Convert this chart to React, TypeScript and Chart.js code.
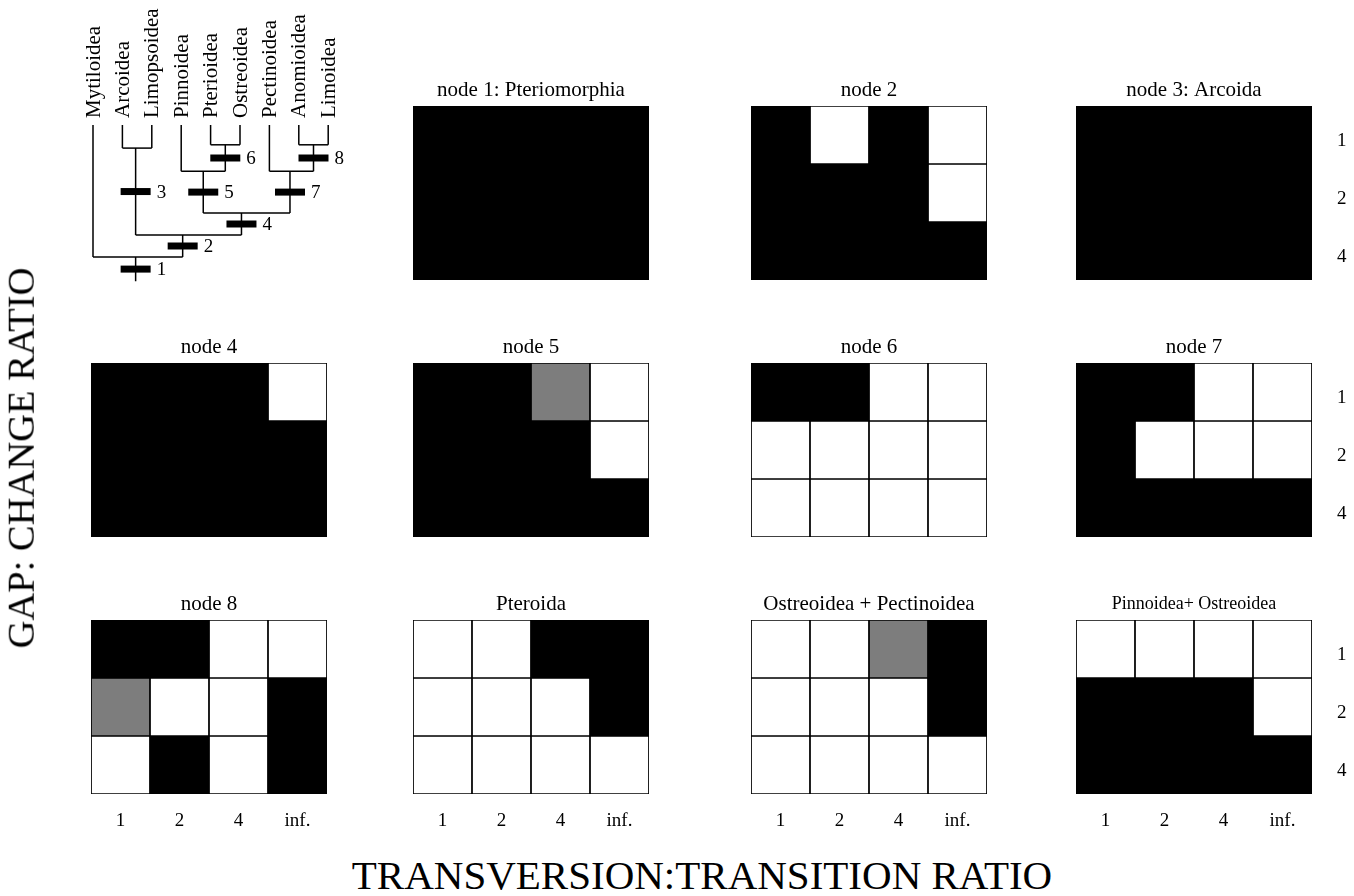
import React, { useEffect, useRef } from 'react';
import { Chart, registerables } from 'chart.js';

Chart.register(...registerables);

const SERIF = "'Liberation Serif', 'Times New Roman', serif";

// ---------- DATA ----------
const xCategories = ['1', '2', '4', 'inf.'];
const yCategories = ['1', '2', '4'];

// cell values: 1 = supported (black), 0.5 = partial (grey), 0 = not supported (white)
const node1Grid = [[1, 1, 1, 1], [1, 1, 1, 1], [1, 1, 1, 1]];
const node2Grid = [[1, 0, 1, 0], [1, 1, 1, 0], [1, 1, 1, 1]];
const node3Grid = [[1, 1, 1, 1], [1, 1, 1, 1], [1, 1, 1, 1]];
const node4Grid = [[1, 1, 1, 0], [1, 1, 1, 1], [1, 1, 1, 1]];
const node5Grid = [[1, 1, 0.5, 0], [1, 1, 1, 0], [1, 1, 1, 1]];
const node6Grid = [[1, 1, 0, 0], [0, 0, 0, 0], [0, 0, 0, 0]];
const node7Grid = [[1, 1, 0, 0], [1, 0, 0, 0], [1, 1, 1, 1]];
const node8Grid = [[1, 1, 0, 0], [0.5, 0, 0, 1], [0, 1, 0, 1]];
const pteroidaGrid = [[0, 0, 1, 1], [0, 0, 0, 1], [0, 0, 0, 0]];
const ostPectGrid = [[0, 0, 0.5, 1], [0, 0, 0, 1], [0, 0, 0, 0]];
const pinnOstGrid = [[0, 0, 0, 0], [1, 1, 1, 0], [1, 1, 1, 1]];

const panelTitles = [
  'node 1: Pteriomorphia', 'node 2', 'node 3: Arcoida',
  'node 4', 'node 5', 'node 6', 'node 7',
  'node 8', 'Pteroida', 'Ostreoidea + Pectinoidea', 'Pinnoidea+ Ostreoidea',
];
const panelGrids = [
  node1Grid, node2Grid, node3Grid,
  node4Grid, node5Grid, node6Grid, node7Grid,
  node8Grid, pteroidaGrid, ostPectGrid, pinnOstGrid,
];

// tree
const leafNames = ['Mytiloidea', 'Arcoidea', 'Limopsoidea', 'Pinnoidea', 'Pterioidea',
  'Ostreoidea', 'Pectinoidea', 'Anomioidea', 'Limoidea'];
// internal nodes 1..8: children ('L' = leaf index, 'N' = node number)
const nodeChildren = [
  ['L0', 'N2'], ['N3', 'N4'], ['L1', 'L2'], ['N5', 'N7'],
  ['L3', 'N6'], ['L4', 'L5'], ['L6', 'N8'], ['L7', 'L8'],
];
const nodeDepth = [6, 5, 1.05, 4, 2.1, 0.9, 2.1, 0.9];
const nodeX = [1.45, 3.05, 1.45, 5.05, 3.75, 4.5, 6.7, 7.5];
const rootDepth = 7.1;

// ---------- LAYOUT / STYLE ----------
const colLeft = [91, 413, 751, 1076];
const colWidth = [236, 236, 236, 236];
const rowTop = [106, 363, 620];
const plotH = 174;
const titleSizes = [21, 21, 21, 21, 21, 21, 21, 21, 21, 21, 18];
const YW = 50;
const XH = 46;
const TITLE_H = 34;

function cellColor(v: number) {
  if (v >= 1) return '#000000';
  if (v > 0) return '#7d7d7d';
  return '#ffffff';
}

type PanelProps = {
  title: string; grid: number[][]; left: number; top: number; width: number;
  showX: boolean; showY: boolean; titleSize: number;
};

function HeatPanel({ title, grid, left, top, width, showX, showY, titleSize }: PanelProps) {
  const ref = useRef<HTMLCanvasElement>(null);
  const cw = width + 2 * YW;
  const ch = TITLE_H + plotH + XH;
  useEffect(() => {
    const pb = 16 - 0.6 * titleSize;
    const pt = TITLE_H - 1.2 * titleSize - pb;
    const chart = new Chart(ref.current as HTMLCanvasElement, {
      type: 'bar',
      data: {
        labels: xCategories,
        datasets: grid.map((row, r) => ({
          data: row.map(() => [r, r + 1]) as any,
          backgroundColor: row.map(cellColor),
          borderColor: '#000',
          borderWidth: 1.2,
          borderSkipped: false,
          barPercentage: 1,
          categoryPercentage: 1,
          grouped: false,
        })),
      },
      options: {
        animation: false,
        responsive: false,
        events: [],
        layout: { autoPadding: false, padding: { left: YW, right: 0, top: 0, bottom: 0 } },
        plugins: {
          legend: { display: false },
          tooltip: { enabled: false },
          title: {
            display: true,
            fullSize: false,
            text: title,
            color: '#000',
            font: { family: SERIF, size: titleSize, weight: 'normal', lineHeight: 1.2 },
            padding: { top: pt, bottom: pb },
          },
        },
        scales: {
          x: {
            type: 'category',
            grid: { display: false },
            border: { display: false },
            ticks: { display: showX, color: '#000', padding: 8, font: { family: SERIF, size: 19 }, maxRotation: 0 },
            afterFit: (s: any) => { s.height = XH; },
          },
          y: {
            type: 'linear',
            position: 'right',
            min: 0,
            max: 3,
            reverse: true,
            grid: { display: false },
            border: { display: false },
            afterBuildTicks: (s: any) => { s.ticks = yCategories.map((_, i) => ({ value: i + 0.5 })); },
            ticks: {
              display: showY, color: '#000', padding: 17, labelOffset: 6, font: { family: SERIF, size: 19 },
              callback: (v: any) => yCategories[Math.floor(Number(v))],
            },
            afterFit: (s: any) => { s.width = YW; },
          },
        },
      } as any,
    });
    return () => chart.destroy();
  }, []);
  return (
    <canvas
      ref={ref}
      width={cw}
      height={ch}
      style={{ position: 'absolute', left: left - YW, top: top - TITLE_H, width: cw, height: ch }}
    />
  );
}

// tree geometry helpers
function refX(r: string) { return r[0] === 'L' ? Number(r.slice(1)) : nodeX[Number(r.slice(1)) - 1]; }
function parentDepthOf(r: string) {
  const k = nodeChildren.findIndex((c) => c.includes(r));
  return k < 0 ? rootDepth : nodeDepth[k];
}

const TREE_LEFT = 60, TREE_TOP = 0, TREE_W = 300, TREE_H = 300;
const LEAF0_PX = 93, LEAF_STEP = 29.4, DEPTH0_PX = 125, DEPTH_STEP = 22;

function TreePanel() {
  const ref = useRef<HTMLCanvasElement>(null);
  useEffect(() => {
    const segs: { x: number; y: number }[][] = [];
    leafNames.forEach((_, i) => segs.push([{ x: i, y: 0 }, { x: i, y: parentDepthOf('L' + i) }]));
    nodeChildren.forEach((ch, k) => {
      segs.push([{ x: refX(ch[0]), y: nodeDepth[k] }, { x: refX(ch[1]), y: nodeDepth[k] }]);
      segs.push([{ x: nodeX[k], y: nodeDepth[k] }, { x: nodeX[k], y: parentDepthOf('N' + (k + 1)) }]);
    });
    const markers = nodeChildren.map((_, k) => ({
      x: nodeX[k],
      y: (nodeDepth[k] + parentDepthOf('N' + (k + 1))) / 2,
    }));
    const labelPlugin = {
      id: 'treeLabels',
      afterDatasetsDraw(chart: any) {
        const { ctx, scales: { x, y } } = chart;
        ctx.save();
        ctx.fillStyle = '#000';
        ctx.font = `21px ${SERIF}`;
        leafNames.forEach((name, i) => {
          ctx.save();
          ctx.translate(x.getPixelForValue(i) + 1, y.getPixelForValue(0) - 7);
          ctx.rotate(-Math.PI / 2);
          ctx.textAlign = 'left';
          ctx.textBaseline = 'middle';
          ctx.fillText(name, 0, 0);
          ctx.restore();
        });
        ctx.font = `19px ${SERIF}`;
        ctx.textAlign = 'left';
        ctx.textBaseline = 'middle';
        markers.forEach((m, k) => {
          ctx.fillText(String(k + 1), x.getPixelForValue(m.x) + 21, y.getPixelForValue(m.y) + 1);
        });
        ctx.restore();
      },
    };
    const chart = new Chart(ref.current as HTMLCanvasElement, {
      type: 'scatter',
      data: {
        datasets: [
          ...segs.map((s) => ({
            data: s,
            showLine: true,
            borderColor: '#000',
            borderWidth: 1.5,
            pointRadius: 0,
          })),
          {
            data: markers,
            showLine: false,
            pointStyle: 'line',
            pointRadius: 15,
            pointBorderWidth: 7,
            pointBorderColor: '#000',
            borderColor: '#000',
          },
        ] as any,
      },
      options: {
        animation: false,
        responsive: false,
        events: [],
        layout: { autoPadding: false, padding: 0 },
        plugins: { legend: { display: false }, tooltip: { enabled: false } },
        scales: {
          x: {
            type: 'linear', display: false,
            min: (TREE_LEFT - LEAF0_PX) / LEAF_STEP,
            max: (TREE_LEFT + TREE_W - LEAF0_PX) / LEAF_STEP,
          },
          y: {
            type: 'linear', display: false, reverse: true,
            min: (TREE_TOP - DEPTH0_PX) / DEPTH_STEP,
            max: (TREE_TOP + TREE_H - DEPTH0_PX) / DEPTH_STEP,
          },
        },
      } as any,
      plugins: [labelPlugin],
    });
    return () => chart.destroy();
  }, []);
  return (
    <canvas
      ref={ref}
      width={TREE_W}
      height={TREE_H}
      style={{ position: 'absolute', left: TREE_LEFT, top: TREE_TOP, width: TREE_W, height: TREE_H }}
    />
  );
}

export default function App() {
  return (
    <div style={{ position: 'absolute', left: 0, top: 0, width: 1354, height: 896, background: '#fff', overflow: 'hidden', fontFamily: SERIF }}>
      <TreePanel />
      {panelTitles.map((t, p) => {
        const slot = p + 1;
        const row = Math.floor(slot / 4);
        const col = slot % 4;
        return (
          <HeatPanel
            key={p}
            title={t}
            grid={panelGrids[p]}
            left={colLeft[col]}
            top={rowTop[row]}
            width={colWidth[col]}
            showX={row === 2}
            showY={col === 3}
            titleSize={titleSizes[p]}
          />
        );
      })}
      <div
        style={{
          position: 'absolute', left: 21, top: 458, transform: 'translate(-50%, -50%) rotate(-90deg)',
          whiteSpace: 'nowrap', fontSize: 38.5, color: '#000', lineHeight: 1,
        }}
      >
        GAP: CHANGE RATIO
      </div>
      <div
        style={{
          position: 'absolute', left: 702, top: 875, transform: 'translate(-50%, -50%)',
          whiteSpace: 'nowrap', fontSize: 41, color: '#000', lineHeight: 1,
        }}
      >
        TRANSVERSION:TRANSITION RATIO
      </div>
    </div>
  );
}
